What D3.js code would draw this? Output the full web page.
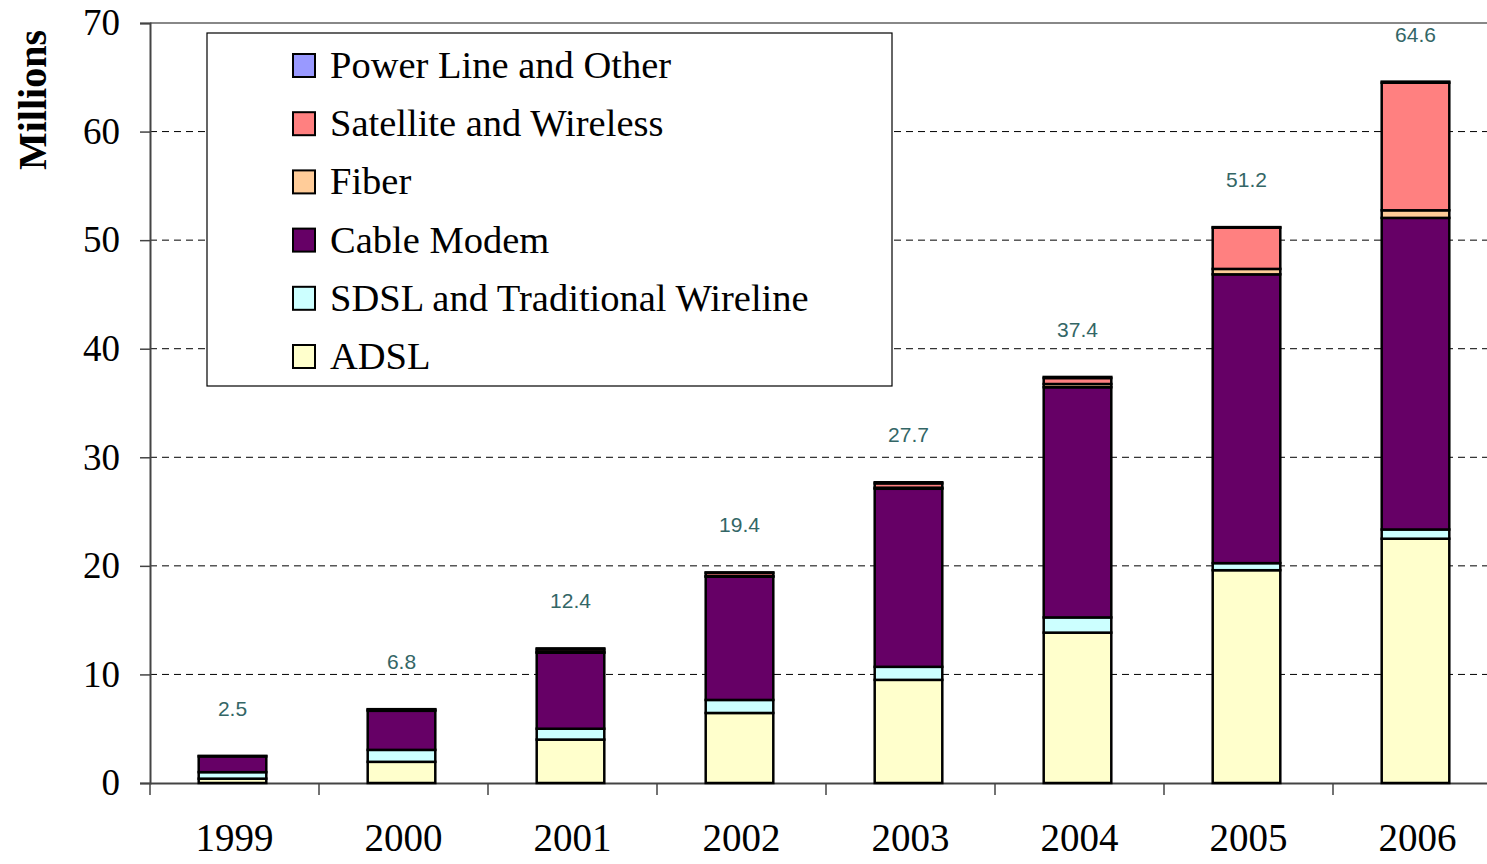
<!DOCTYPE html>
<html>
<head>
<meta charset="utf-8">
<script src="https://cdn.jsdelivr.net/npm/d3@7"></script>
<style>
  body { margin: 0; background: #fff; }
  svg { display: block; }
</style>
</head>
<body>
<div id="chart"></div>
<script>
// data (millions of lines)
var years = ["1999", "2000", "2001", "2002", "2003", "2004", "2005", "2006"];
var adsl = [0.4, 1.95, 4.0, 6.45, 9.5, 13.85, 19.6, 22.5];
var sdsl = [0.6, 1.1, 1.0, 1.2, 1.2, 1.4, 0.65, 0.85];
var cable = [1.45, 3.6, 7.0, 11.35, 16.4, 21.2, 26.6, 28.7];
var fiber = [0, 0, 0.05, 0.05, 0.1, 0.3, 0.5, 0.7];
var satellite = [0.05, 0.1, 0.25, 0.3, 0.4, 0.55, 3.8, 11.75];
var powerLine = [0, 0.05, 0.1, 0.05, 0.1, 0.1, 0.05, 0.1];
var totals = [2.5, 6.8, 12.4, 19.4, 27.7, 37.4, 51.2, 64.6];
var yTicks = [0, 10, 20, 30, 40, 50, 60, 70];

var seriesNames = ["ADSL", "SDSL and Traditional Wireline", "Cable Modem", "Fiber", "Satellite and Wireless", "Power Line and Other"];
var seriesColors = ["#FFFFCC", "#CCFFFF", "#660066", "#FFCC99", "#FF8080", "#9999FF"];
var seriesValues = [adsl, sdsl, cable, fiber, satellite, powerLine];

var serif = "'Liberation Serif', 'Times New Roman', serif";

var svgWidth = 1487;
var svgHeight = 864;
var margin = { top: 23, right: -15, bottom: 81, left: 150 };
var chartWidth = svgWidth - margin.left - margin.right;
var chartHeight = svgHeight - margin.top - margin.bottom;

var svg = d3.select("#chart").append("svg")
            .attr("width", svgWidth)
            .attr("height", svgHeight);

var chartGroup = svg.append("g")
                    .attr("transform", `translate(${margin.left}, ${margin.top})`);

var xScale = d3.scaleBand()
               .domain(years)
               .range([0, chartWidth])
               .paddingInner(0.6)
               .paddingOuter(0.3);

var yScale = d3.scaleLinear()
               .domain([0, 70])
               .range([chartHeight, 0]);

// stacked table
var table = years.map((y, i) => {
    var row = { year: y };
    seriesNames.forEach((n, k) => { row[n] = seriesValues[k][i]; });
    return row;
});
var stacked = d3.stack().keys(seriesNames)(table);

// gridlines (dashed)
chartGroup.append("g")
          .selectAll("line")
          .data(yTicks.filter(t => t > 0 && t < 70))
          .enter().append("line")
          .attr("x1", 0)
          .attr("x2", chartWidth)
          .attr("y1", d => yScale(d))
          .attr("y2", d => yScale(d))
          .attr("stroke", "#000")
          .attr("stroke-width", 1)
          .attr("stroke-dasharray", "7,5");

// top border
chartGroup.append("line")
          .attr("x1", 0).attr("x2", chartWidth)
          .attr("y1", 0).attr("y2", 0)
          .attr("stroke", "#888").attr("stroke-width", 2);

// left axis
var leftAxis = d3.axisLeft(yScale).tickValues(yTicks).tickSize(10).tickPadding(20);
var ly = chartGroup.append("g").call(leftAxis);
ly.attr("font-family", serif);
ly.select(".domain").attr("stroke", "#444").attr("stroke-width", 2);
ly.selectAll(".tick line").attr("stroke", "#444").attr("stroke-width", 1.5);
ly.selectAll("text")
  .style("font-size", "37px")
  .attr("fill", "#000");

// bottom axis: ticks between categories
var bottomAxis = d3.axisBottom(xScale).tickSize(0).tickPadding(40);
var bx = chartGroup.append("g")
                   .attr("transform", `translate(0, ${chartHeight})`)
                   .call(bottomAxis);
bx.attr("font-family", serif);
bx.select(".domain").attr("stroke", "#444").attr("stroke-width", 2);
bx.selectAll("text")
  .style("font-size", "39px")
  .attr("fill", "#000");
chartGroup.append("g")
          .selectAll("line")
          .data(years)
          .enter().append("line")
          .attr("x1", d => xScale(d) - xScale.step() * 0.3)
          .attr("x2", d => xScale(d) - xScale.step() * 0.3)
          .attr("y1", chartHeight)
          .attr("y2", chartHeight + 12)
          .attr("stroke", "#444")
          .attr("stroke-width", 1.5);

// bars
var layers = chartGroup.selectAll("g.layer").data(stacked).enter()
                       .append("g").attr("class", "layer")
                       .attr("fill", (d, k) => seriesColors[k]);
layers.selectAll("rect")
      .data(d => d.filter(s => s[1] - s[0] > 0))
      .enter().append("rect")
      .attr("x", d => xScale(d.data.year) - 2)
      .attr("width", xScale.bandwidth())
      .attr("y", d => yScale(d[1]))
      .attr("height", d => yScale(d[0]) - yScale(d[1]))
      .attr("stroke", "#000")
      .attr("stroke-width", 2.5);

// total labels
chartGroup.selectAll("text.total")
          .data(totals)
          .enter().append("text")
          .attr("class", "total")
          .attr("x", (d, i) => xScale(years[i]) + xScale.bandwidth() / 2 - 2)
          .attr("y", d => yScale(d) - 40)
          .attr("text-anchor", "middle")
          .style("font-family", "'Liberation Sans', Arial, sans-serif")
          .style("font-size", "21px")
          .attr("fill", "#336666")
          .text(d => d.toFixed(1));

// y title
svg.append("text")
   .attr("transform", "translate(46, 100) rotate(-90)")
   .attr("text-anchor", "middle")
   .style("font-family", serif)
   .style("font-size", "40px")
   .style("font-weight", "bold")
   .text("Millions");

// legend
var legend = svg.append("g").attr("transform", "translate(207, 33)");
legend.append("rect")
      .attr("width", 685).attr("height", 353)
      .attr("fill", "#fff").attr("stroke", "#000").attr("stroke-width", 1.2);
var order = d3.range(seriesNames.length).reverse();
var items = legend.selectAll("g.item").data(order).enter()
                  .append("g").attr("class", "item")
                  .attr("transform", (d, i) => `translate(86, ${32 + i * 58.2})`);
items.append("rect")
     .attr("x", 0).attr("y", -11)
     .attr("width", 22).attr("height", 23)
     .attr("fill", k => seriesColors[k])
     .attr("stroke", "#000").attr("stroke-width", 2);
items.append("text")
     .attr("x", 37).attr("y", 13)
     .style("font-family", serif)
     .style("font-size", "38.5px")
     .text(k => seriesNames[k]);
</script>
</body>
</html>
